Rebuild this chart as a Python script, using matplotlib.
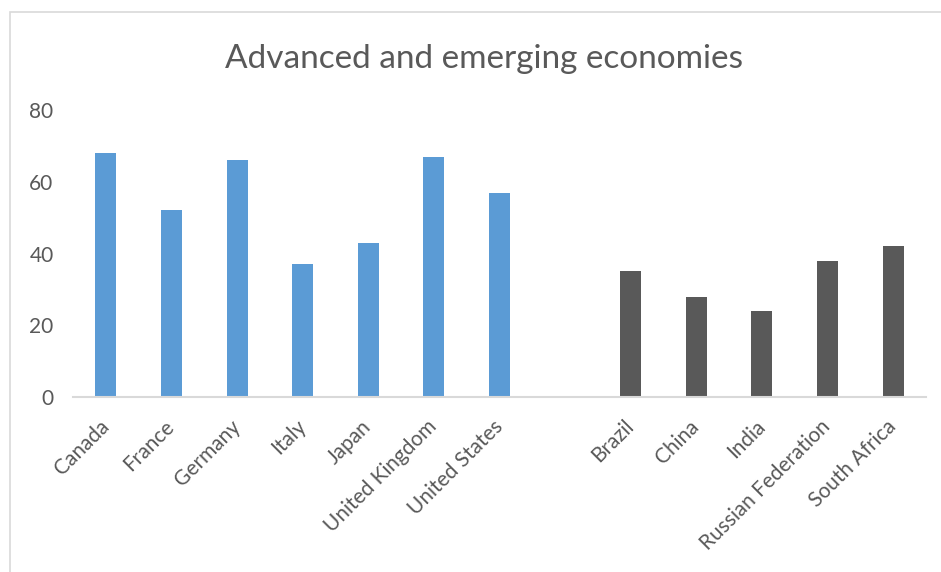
import matplotlib
matplotlib.use("Agg")
import matplotlib.pyplot as plt
from matplotlib.patches import Rectangle

plt.rcParams['font.family'] = ['Lato', 'DejaVu Sans']

advanced = ["Canada", "France", "Germany", "Italy", "Japan",
            "United Kingdom", "United States"]
advanced_values = [68, 52, 66, 37, 43, 67, 57]

emerging = ["Brazil", "China", "India", "Russian Federation", "South Africa"]
emerging_values = [35, 28, 24, 38, 42]

y_ticks = [0, 20, 40, 60, 80]

BLUE = "#5B9BD5"
GREY = "#595959"
TEXT = "#595959"
LINE = "#D9D9D9"

W, H = 941, 572
fig = plt.figure(figsize=(W / 100, H / 100), dpi=100)

# chart-area frame
fig.patches.append(Rectangle((10 / W, -0.1), 1.2, 1.1 - 12 / H,
                             transform=fig.transFigure, fill=False,
                             edgecolor=LINE, linewidth=1.2))

ax = fig.add_axes([73 / W, 1 - 397 / H, (926 - 73) / W, (397 - 110) / H])

# one empty slot separates the two groups
labels = advanced + [""] + emerging
x_adv = list(range(len(advanced)))
x_emg = [len(advanced) + 1 + i for i in range(len(emerging))]

ax.bar(x_adv, advanced_values, width=0.32, color=BLUE)
ax.bar(x_emg, emerging_values, width=0.32, color=GREY)

ax.set_xlim(-0.5, len(labels) - 0.5)
ax.set_ylim(0, 80)
ax.set_yticks(y_ticks)
ax.set_yticklabels([str(v) for v in y_ticks], fontsize=15, color=TEXT)
ax.tick_params(axis='y', length=0, pad=14)
ax.tick_params(axis='x', length=0, pad=19)

ax.set_xticks(x_adv + x_emg)
ax.set_xticklabels(advanced + emerging, rotation=45, ha='right',
                   va='center', rotation_mode='anchor', fontsize=15,
                   color=TEXT)

for side in ("top", "right", "left"):
    ax.spines[side].set_visible(False)
ax.spines["bottom"].set_color(LINE)
ax.spines["bottom"].set_linewidth(1.5)

fig.text(484 / W, 1 - 59 / H, "Advanced and emerging economies",
         ha='center', va='center', fontsize=24, color=TEXT)

fig.savefig("out.png", dpi=100)
